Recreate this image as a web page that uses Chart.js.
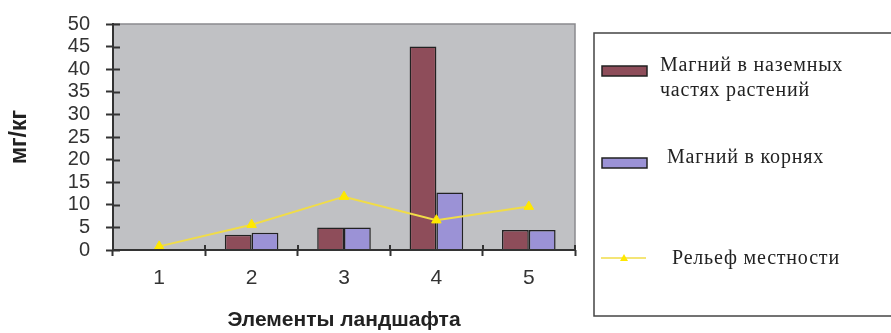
<!DOCTYPE html>
<html>
<head>
<meta charset="utf-8">
<script src="https://cdn.jsdelivr.net/npm/chart.js@4/dist/chart.umd.min.js"></script>
<style>
  html, body { margin: 0; padding: 0; background: #ffffff; }
  #wrap { width: 891px; height: 333px; position: relative; }
</style>
</head>
<body>
<div id="wrap"><canvas id="c" width="891" height="333"></canvas></div>
<script>
// Landscape elements (x categories)
const categories = ['1', '2', '3', '4', '5'];
// Magnesium in above-ground plant parts, mg/kg
const magnesiumAboveGround = [0, 3.4, 5, 45, 4.4];
// Magnesium in roots, mg/kg
const magnesiumRoots = [0, 3.8, 5, 12.7, 4.4];
// Terrain relief
const relief = [0.8, 5.6, 11.8, 6.6, 9.6];
// Y axis ticks
const yTicks = [0, 5, 10, 15, 20, 25, 30, 35, 40, 45, 50];

const seriesNames = ['Магний в наземных частях растений', 'Магний в корнях', 'Рельеф местности'];
const legendLines = [['Магний в наземных', 'частях растений'], ['Магний в корнях'], ['Рельеф местности']];

const AXIS = '#333333';
const PLOT_BG = '#c0c1c4';

// Gray plot area and cross-style tick marks
const plotFrame = {
  id: 'plotFrame',
  beforeDatasetsDraw(chart) {
    const { ctx, chartArea: a } = chart;
    ctx.save();
    ctx.fillStyle = PLOT_BG;
    ctx.fillRect(a.left, a.top, a.right - a.left, a.bottom - a.top);
    ctx.strokeStyle = '#8a8a8e';
    ctx.lineWidth = 1.5;
    ctx.beginPath();
    ctx.moveTo(a.left, a.top);
    ctx.lineTo(a.right, a.top);
    ctx.lineTo(a.right, a.bottom);
    ctx.stroke();
    ctx.restore();
  },
  afterDatasetsDraw(chart) {
    const { ctx, chartArea: a, scales } = chart;
    ctx.save();
    ctx.strokeStyle = AXIS;
    ctx.lineWidth = 2;
    ctx.beginPath();
    // inner part of y ticks
    scales.y.ticks.forEach((t) => {
      const y = Math.round(scales.y.getPixelForValue(t.value)) + 0.5;
      ctx.moveTo(a.left, y);
      ctx.lineTo(a.left + 7, y);
    });
    // inner part of x ticks at category boundaries
    for (let i = 1; i <= categories.length; i++) {
      const x = Math.round(scales.x.getPixelForValue(i - 0.5));
      ctx.moveTo(x, a.bottom);
      ctx.lineTo(x, a.bottom - 5);
    }
    ctx.stroke();
    // axis lines
    ctx.beginPath();
    ctx.moveTo(a.left, a.top - 1);
    ctx.lineTo(a.left, a.bottom);
    ctx.lineTo(a.right, a.bottom);
    ctx.stroke();
    ctx.restore();
  }
};

// Boxed legend on the right
const boxLegend = {
  id: 'boxLegend',
  afterDraw(chart) {
    const { ctx } = chart;
    const ds = chart.data.datasets;
    ctx.save();
    ctx.strokeStyle = '#444444';
    ctx.lineWidth = 1.5;
    ctx.strokeRect(594, 33, 310, 283);

    // bar swatches
    const sw = [[602, 66, 0], [602, 158, 1]];
    sw.forEach(([x, y, i]) => {
      ctx.fillStyle = ds[i].backgroundColor;
      ctx.fillRect(x, y, 45, 10);
      ctx.strokeStyle = '#222222';
      ctx.lineWidth = 1.5;
      ctx.strokeRect(x, y, 45, 10);
    });
    // line swatch
    ctx.strokeStyle = ds[2].borderColor;
    ctx.lineWidth = 1.5;
    ctx.beginPath();
    ctx.moveTo(601, 258);
    ctx.lineTo(646, 258);
    ctx.stroke();
    ctx.fillStyle = ds[2].pointBackgroundColor;
    ctx.beginPath();
    ctx.moveTo(624, 254);
    ctx.lineTo(628, 261);
    ctx.lineTo(620, 261);
    ctx.closePath();
    ctx.fill();

    ctx.font = '20px "Liberation Serif", "Times New Roman", serif';
    if ('letterSpacing' in ctx) ctx.letterSpacing = '0.8px';
    ctx.textBaseline = 'middle';
    ctx.fillStyle = '#222222';
    ctx.fillText(legendLines[0][0], 660, 66);
    ctx.fillText(legendLines[0][1], 660, 91);
    ctx.fillText(legendLines[1][0], 667, 158);
    ctx.fillText(legendLines[2][0], 672, 259);
    ctx.restore();
  }
};

new Chart(document.getElementById('c'), {
  data: {
    labels: categories,
    datasets: [
      {
        type: 'bar',
        label: seriesNames[0],
        data: magnesiumAboveGround,
        backgroundColor: '#8e4d5a',
        borderColor: '#222222',
        borderWidth: 1.5,
        order: 2,
        categoryPercentage: 0.58,
        barPercentage: 1.0
      },
      {
        type: 'bar',
        label: seriesNames[1],
        data: magnesiumRoots,
        backgroundColor: '#9b92d6',
        borderColor: '#222222',
        borderWidth: 1.5,
        order: 2,
        categoryPercentage: 0.58,
        barPercentage: 1.0
      },
      {
        type: 'line',
        label: seriesNames[2],
        data: relief,
        borderColor: '#f0dc48',
        borderWidth: 2,
        pointStyle: 'triangle',
        pointRadius: 5.5,
        pointBackgroundColor: '#ffe800',
        pointBorderColor: '#ffe800',
        pointBorderWidth: 1,
        tension: 0,
        order: 0
      }
    ]
  },
  options: {
    responsive: false,
    animation: false,
    devicePixelRatio: 1,
    layout: { padding: { left: 0, top: 24, right: 316, bottom: 0 } },
    plugins: {
      legend: { display: false },
      tooltip: { enabled: false }
    },
    scales: {
      x: {
        type: 'category',
        offset: true,
        grid: {
          offset: true,
          drawOnChartArea: false,
          drawTicks: true,
          tickLength: 6,
          tickWidth: 2,
          color: AXIS
        },
        border: { display: false },
        ticks: {
          color: '#333333',
          font: { family: '"Liberation Sans", Arial, sans-serif', size: 21 },
          padding: 10
        },
        title: {
          display: true,
          text: 'Элементы ландшафта',
          color: '#222222',
          font: { family: '"Liberation Sans", Arial, sans-serif', size: 21, weight: 'bold' },
          padding: { top: 0, bottom: 0 }
        },
        afterFit(scale) {
          scale.height = 83;
          scale.paddingLeft = 0;
          scale.paddingRight = 0;
        }
      },
      y: {
        type: 'linear',
        min: 0,
        max: 50,
        afterBuildTicks(scale) { scale.ticks = yTicks.map((v) => ({ value: v })); },
        grid: {
          drawOnChartArea: false,
          drawTicks: true,
          tickLength: 7,
          tickWidth: 2,
          color: AXIS
        },
        border: { display: false },
        ticks: {
          autoSkip: false,
          color: '#333333',
          font: { family: '"Liberation Sans", Arial, sans-serif', size: 20 },
          padding: 16
        },
        title: {
          display: true,
          text: 'мг/кг',
          color: '#222222',
          font: { family: '"Liberation Sans", Arial, sans-serif', size: 23, weight: 'bold' },
          padding: { top: 6, bottom: 0 }
        },
        afterFit(scale) {
          scale.width = 113;
          scale.paddingTop = 0;
          scale.paddingBottom = 0;
        }
      }
    }
  },
  plugins: [plotFrame, boxLegend]
});
</script>
</body>
</html>
